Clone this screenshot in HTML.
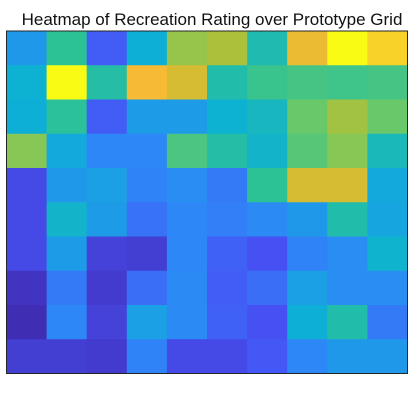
<!DOCTYPE html>
<html><head><meta charset="utf-8"><style>
html,body{margin:0;padding:0;background:#fff;}
svg{display:block;}
</style></head><body>
<svg id="chart" width="410" height="419" viewBox="0 0 410 419" xmlns="http://www.w3.org/2000/svg">
<text x="212" y="25" text-anchor="middle" font-family="Liberation Sans, sans-serif" font-size="17" fill="#111">Heatmap of Recreation Rating over Prototype Grid</text>
<g id="cells"></g>
<rect x="6.5" y="31" width="401" height="342.5" fill="none" stroke="#262626" stroke-width="1"/>
</svg>
<script>
const rowLabels = [1,2,3,4,5,6,7,8,9,10];
const colLabels = [1,2,3,4,5,6,7,8,9,10];
const row0 = [0.30,0.50,0.15,0.37,0.68,0.72,0.45,0.85,1.00,0.92];
const row1 = [0.38,1.00,0.47,0.87,0.80,0.46,0.52,0.54,0.53,0.54];
const row2 = [0.37,0.49,0.15,0.31,0.31,0.38,0.42,0.60,0.70,0.60];
const row3 = [0.65,0.35,0.25,0.25,0.55,0.47,0.40,0.57,0.65,0.43];
const row4 = [0.10,0.30,0.32,0.24,0.27,0.22,0.50,0.80,0.80,0.35];
const row5 = [0.10,0.40,0.31,0.20,0.25,0.23,0.26,0.30,0.46,0.34];
const row6 = [0.10,0.31,0.08,0.07,0.25,0.16,0.12,0.24,0.27,0.39];
const row7 = [0.04,0.22,0.06,0.19,0.26,0.15,0.19,0.32,0.27,0.27];
const row8 = [0.02,0.25,0.08,0.32,0.26,0.16,0.12,0.37,0.46,0.22];
const row9 = [0.07,0.07,0.06,0.24,0.10,0.10,0.14,0.25,0.30,0.30];
const values = [row0,row1,row2,row3,row4,row5,row6,row7,row8,row9];

const X0=6.5, X1=407.5, Y0=31, Y1=373.5;
const cw=(X1-X0)/colLabels.length, ch=(Y1-Y0)/rowLabels.length;
function xPos(j){return X0+j*cw;}
function yPos(i){return Y0+i*ch;}
const stops=[[0,[62,38,168]],[0.125,[71,82,245]],[0.25,[46,135,247]],[0.375,[12,177,214]],[0.5,[45,194,150]],[0.625,[120,201,95]],[0.75,[190,189,48]],[0.875,[248,186,53]],[1,[249,251,20]]];
function color(v){
  v=Math.max(0,Math.min(1,v));
  for(let k=1;k<stops.length;k++){
    if(v<=stops[k][0]){
      const a=stops[k-1],b=stops[k],t=(v-a[0])/(b[0]-a[0]);
      const c=a[1].map((x,i)=>Math.round(x+(b[1][i]-x)*t));
      return `rgb(${c[0]},${c[1]},${c[2]})`;
    }
  }
  return 'rgb(249,251,20)';
}
const g=document.getElementById('cells');
values.forEach((row,i)=>row.forEach((v,j)=>{
  const r=document.createElementNS('http://www.w3.org/2000/svg','rect');
  r.setAttribute('x',xPos(j));
  r.setAttribute('y',yPos(i));
  r.setAttribute('width',cw+0.5);
  r.setAttribute('height',ch+0.5);
  r.setAttribute('fill',color(v));
  
  
  g.appendChild(r);
}));
</script>
</body></html>
